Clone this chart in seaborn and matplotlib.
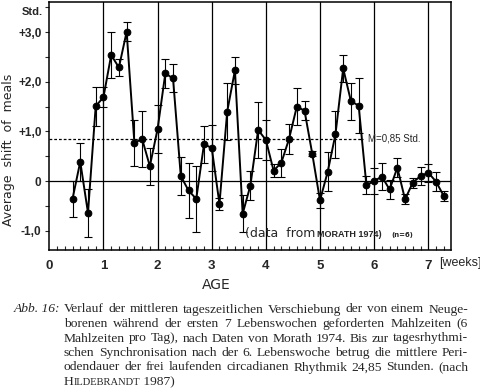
import matplotlib
matplotlib.use("Agg")
import matplotlib.pyplot as plt
import pandas as pd
import seaborn as sns
from matplotlib import font_manager
from matplotlib.ticker import MultipleLocator

# ---- data (one point per day, x in weeks) ----
days = list(range(3, 52))
mean_shift = [-0.36, 0.39, -0.64, 1.51, 1.69, 2.54, 2.29, 3.01, 0.77, 0.85,
              0.30, 1.05, 2.17, 2.07, 0.10, -0.19, -0.36, 0.74, 0.67, -0.46,
              1.40, 2.23, -0.66, -0.09, 1.03, 0.83, 0.21, 0.37, 0.85, 1.50,
              1.42, 0.55, -0.39, 0.19, 0.94, 2.27, 1.61, 1.52, -0.08, 0.00,
              0.09, -0.17, 0.27, -0.37, -0.03, 0.10, 0.17, -0.01, -0.30]
err_shift = [0.37, 0.38, 0.48, 0.39, 0.20, 0.46, 0.18, 0.19, 0.47, 0.57,
             0.37, 0.48, 0.29, 0.28, 0.38, 0.56, 0.67, 0.38, 0.47, 0.12,
             0.57, 0.28, 0.37, 0.29, 0.57, 0.40, 0.13, 0.28, 0.30, 0.37,
             0.19, 0.05, 0.15, 0.39, 0.48, 0.28, 0.37, 0.55, 0.19, 0.27,
             0.28, 0.20, 0.19, 0.10, 0.10, 0.18, 0.18, 0.19, 0.10]
mean_level = 0.85
week_ticks = [0, 1, 2, 3, 4, 5, 6, 7]
week_labels = ["0", "1", "2", "3", "4", "5", "6", "7"]
y_ticks = [-1, 0, 1, 2, 3]
y_labels = ["-1,0", "0", "+1,0", "+2,0", "+3,0"]

caption_lines = [
    "Verlauf der mittleren tageszeitlichen Verschiebung der von einem Neuge-",
    "borenen während der ersten 7 Lebenswochen geforderten Mahlzeiten (6",
    "Mahlzeiten pro Tag), nach Daten von Morath 1974. Bis zur tagesrhythmi-",
    "schen Synchronisation nach der 6. Lebenswoche betrug die mittlere Peri-",
    "odendauer der frei laufenden circadianen Rhythmik 24,85 Stunden. (nach",
]

df = pd.DataFrame({"week": [d / 7 for d in days], "shift": mean_shift, "err": err_shift})

sns.set_style("ticks")
installed = {f.name for f in font_manager.fontManager.ttflist}
narrow = "Liberation Sans Narrow" if "Liberation Sans Narrow" in installed else "Liberation Sans"
plt.rcParams["font.family"] = ["DejaVu Sans"]

W, H = 480, 390


def px(x, y):
    # pixel position (from top left) -> figure fraction
    return x / W, 1 - y / H


fig = plt.figure(figsize=(4.8, 3.9), dpi=100)
fig.patch.set_facecolor("white")
ax = fig.add_axes([48.5 / W, 1 - 250 / H, (451 - 48.5) / W, 248 / H])
ax.set_facecolor("white")

ax.errorbar(df["week"], df["shift"], yerr=df["err"], fmt="none", ecolor="black",
            elinewidth=0.8, capsize=2.8, capthick=0.8, zorder=3)
sns.lineplot(data=df, x="week", y="shift", color="black", lw=1.4, marker="o",
             markersize=4.8, markeredgecolor="black", ax=ax, zorder=4)

# week grid, zero line and mean line
for w in week_ticks[1:]:
    ax.axvline(w, color="black", lw=0.9, zorder=1)
ax.axhline(0, color="black", lw=0.9, zorder=1)
ax.hlines(mean_level, 0, 5.79, color="black", lw=0.9, linestyles=(0, (2.2, 1.6)), zorder=1)
ax.text(5.88, mean_level, "M=0,85 Std.", fontsize=7, family=narrow, va="center", ha="left")

ax.set_xlim(-0.015, 7.42)
ax.set_ylim(-1.39, 3.61)
ax.set_xticks(week_ticks)
ax.set_xticklabels(week_labels, fontsize=9.5, fontweight="bold", family=narrow)
ax.xaxis.set_minor_locator(MultipleLocator(1 / 7))
ax.tick_params(axis="x", which="major", length=0, pad=7)
ax.tick_params(axis="x", which="minor", direction="in", length=3, width=0.8, top=False)
ax.set_yticks(y_ticks)
ax.set_yticklabels(y_labels, fontsize=8.5, fontweight="bold", family=narrow)
ax.yaxis.set_minor_locator(MultipleLocator(0.5))
ax.tick_params(axis="y", which="both", direction="out", length=3, width=0.8, pad=2)
ax.set_xlabel("")
ax.set_ylabel("")
for s in ax.spines.values():
    s.set_linewidth(1.1)
    s.set_color("black")

# labels around the plot
fig.text(*px(43, 12), "Std.", fontsize=8, fontweight="bold", family=narrow, ha="right", va="center")
fig.text(*px(9, 150), "Average  shift  of  meals", fontsize=9, rotation=90, ha="center", va="center")
fig.text(*px(216, 285), "AGE", fontsize=10, ha="center", va="center")
fig.text(*px(439, 263), "[weeks]", fontsize=9, family="Liberation Sans", ha="left", va="center")

fig.canvas.draw()
rend = fig.canvas.get_renderer()

# "(data from MORATH 1974) (n=6)" as a chain of pieces
x = 245
for piece, kw, gap in [("(data  from", dict(fontsize=9), 2),
                       ("MORATH 1974)", dict(fontsize=6.5, fontweight="bold", family=narrow), 9),
                       ("(n=6)", dict(fontsize=5, fontweight="bold"), 0)]:
    t = fig.text(*px(x, 237), piece, va="baseline", ha="left", **kw)
    x += t.get_window_extent(rend).width + gap

# caption, justified
serif = "Liberation Serif"
left, right = 64, 468
base, step = 312.5, 14.5
cap_size = 9.7

fig.text(*px(14, base), "Abb. 16:", fontsize=cap_size, family=serif, style="italic", va="baseline")
for i, line in enumerate(caption_lines):
    yb = base + i * step
    words = line.split()
    texts = [fig.text(0, 0, w, fontsize=cap_size, family=serif, va="baseline") for w in words]
    widths = [t.get_window_extent(rend).width for t in texts]
    gap = (right - left - sum(widths)) / (len(words) - 1)
    x = left
    for t, w in zip(texts, widths):
        t.set_position(px(x, yb))
        x += w + gap

# last line with small caps name
yb = base + 5 * step
x = left
for piece, size in [("H", cap_size), ("ILDEBRANDT", cap_size * 0.78), (" 1987)", cap_size)]:
    t = fig.text(*px(x, yb), piece, fontsize=size, family=serif, va="baseline")
    x += t.get_window_extent(rend).width

fig.savefig("out.png", dpi=100)
